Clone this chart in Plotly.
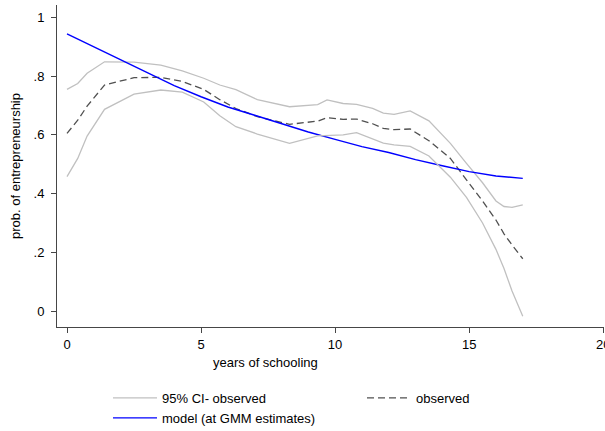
import plotly.graph_objects as go

# observed (lowess) and its 95% CI
x_obs = [0, 0.4, 0.75, 1.4, 2.5, 3.5, 4.3, 5.1, 5.7, 6.3, 7.1, 8.3, 9.35, 9.7, 10.3, 10.8,
         11.4, 11.8, 12.2, 12.8, 13.5, 14.3, 14.9, 15.5, 16.0, 16.3, 16.6, 17.0]
ci_upper = [0.755, 0.775, 0.81, 0.849, 0.848, 0.838, 0.818, 0.793, 0.77, 0.754, 0.72, 0.696,
            0.703, 0.719, 0.707, 0.704, 0.69, 0.674, 0.67, 0.682, 0.648, 0.571, 0.503, 0.437,
            0.375, 0.356, 0.353, 0.362]
observed = [0.605, 0.65, 0.698, 0.77, 0.795, 0.796, 0.782, 0.755, 0.72, 0.69, 0.662, 0.636,
            0.647, 0.659, 0.653, 0.654, 0.638, 0.622, 0.618, 0.62, 0.58, 0.52, 0.447, 0.375,
            0.31, 0.263, 0.225, 0.178]
ci_lower = [0.458, 0.52, 0.596, 0.687, 0.739, 0.753, 0.746, 0.712, 0.665, 0.628, 0.603, 0.571,
            0.597, 0.598, 0.6, 0.608, 0.585, 0.572, 0.566, 0.561, 0.528, 0.456, 0.387, 0.30,
            0.21, 0.145, 0.068, -0.018]

# model at GMM estimates
x_model = list(range(0, 18))
model = [0.944, 0.90, 0.858, 0.813, 0.768, 0.73, 0.695, 0.667, 0.638, 0.61, 0.585, 0.56,
         0.54, 0.516, 0.495, 0.475, 0.46, 0.452]

x_ticks = [0, 5, 10, 15, 20]
x_tick_labels = ["0", "5", "10", "15", "20"]
y_ticks = [0, 0.2, 0.4, 0.6, 0.8, 1.0]
y_tick_labels = ["0", ".2", ".4", ".6", ".8", "1"]

FONT = "Liberation Sans, Arial, sans-serif"
CI_COL = "rgb(192,192,192)"
OBS_COL = "rgb(80,80,80)"
MODEL_COL = "rgb(0,0,255)"
AXIS_COL = "rgb(70,70,70)"

fig = go.Figure()
fig.add_trace(go.Scatter(x=x_obs, y=ci_upper, mode="lines", name="95% CI- observed",
                         legendgroup="ci", line=dict(color=CI_COL, width=1.3)))
fig.add_trace(go.Scatter(x=x_obs, y=observed, mode="lines", name="observed",
                         line=dict(color=OBS_COL, width=1.3, dash="7px,4px")))
fig.add_trace(go.Scatter(x=x_model, y=model, mode="lines", name="model (at GMM estimates)",
                         line=dict(color=MODEL_COL, width=1.4)))
fig.add_trace(go.Scatter(x=x_obs, y=ci_lower, mode="lines", name="95% CI- observed",
                         legendgroup="ci", showlegend=False, line=dict(color=CI_COL, width=1.3)))

fig.update_layout(
    width=605, height=431,
    margin=dict(l=57, r=1, t=5, b=104, autoexpand=False),
    paper_bgcolor="white", plot_bgcolor="white",
    font=dict(family=FONT, size=13, color="black"),
    showlegend=True,
    legend=dict(orientation="h", xref="container", yref="container",
                x=108 / 605, y=1 - 383 / 431, xanchor="left", yanchor="top",
                entrywidth=195, itemwidth=44, font=dict(size=13, family=FONT),
                bgcolor="rgba(0,0,0,0)", traceorder="normal", tracegroupgap=0),
    xaxis=dict(range=[-0.373, 20.03], tickmode="array", tickvals=x_ticks,
               ticktext=x_tick_labels, ticks="outside", ticklen=5, tickcolor=AXIS_COL,
               showline=True, linecolor=AXIS_COL, linewidth=1, showgrid=False,
               zeroline=False, tickfont=dict(size=13), ticklabeloverflow="allow",
               automargin=False),
    yaxis=dict(range=[-0.0545, 1.0426], tickmode="array", tickvals=y_ticks,
               ticktext=y_tick_labels, ticks="outside", ticklen=5, tickcolor=AXIS_COL,
               showline=True, linecolor=AXIS_COL, linewidth=1, showgrid=False,
               zeroline=False, tickfont=dict(size=13), ticklabelstandoff=4,
               automargin=False,
               title=dict(text="prob. of entrepreneurship", font=dict(size=13), standoff=10)),
    annotations=[dict(text="years of schooling", xref="paper", yref="paper",
                      x=(265 - 57) / 547, y=-(362 - 327) / 322, xanchor="center",
                      yanchor="middle", showarrow=False, font=dict(size=13))],
)

fig.write_html("out.html", config={"displayModeBar": False},
               post_script="document.body.style.margin='0';document.body.style.padding='0';")
